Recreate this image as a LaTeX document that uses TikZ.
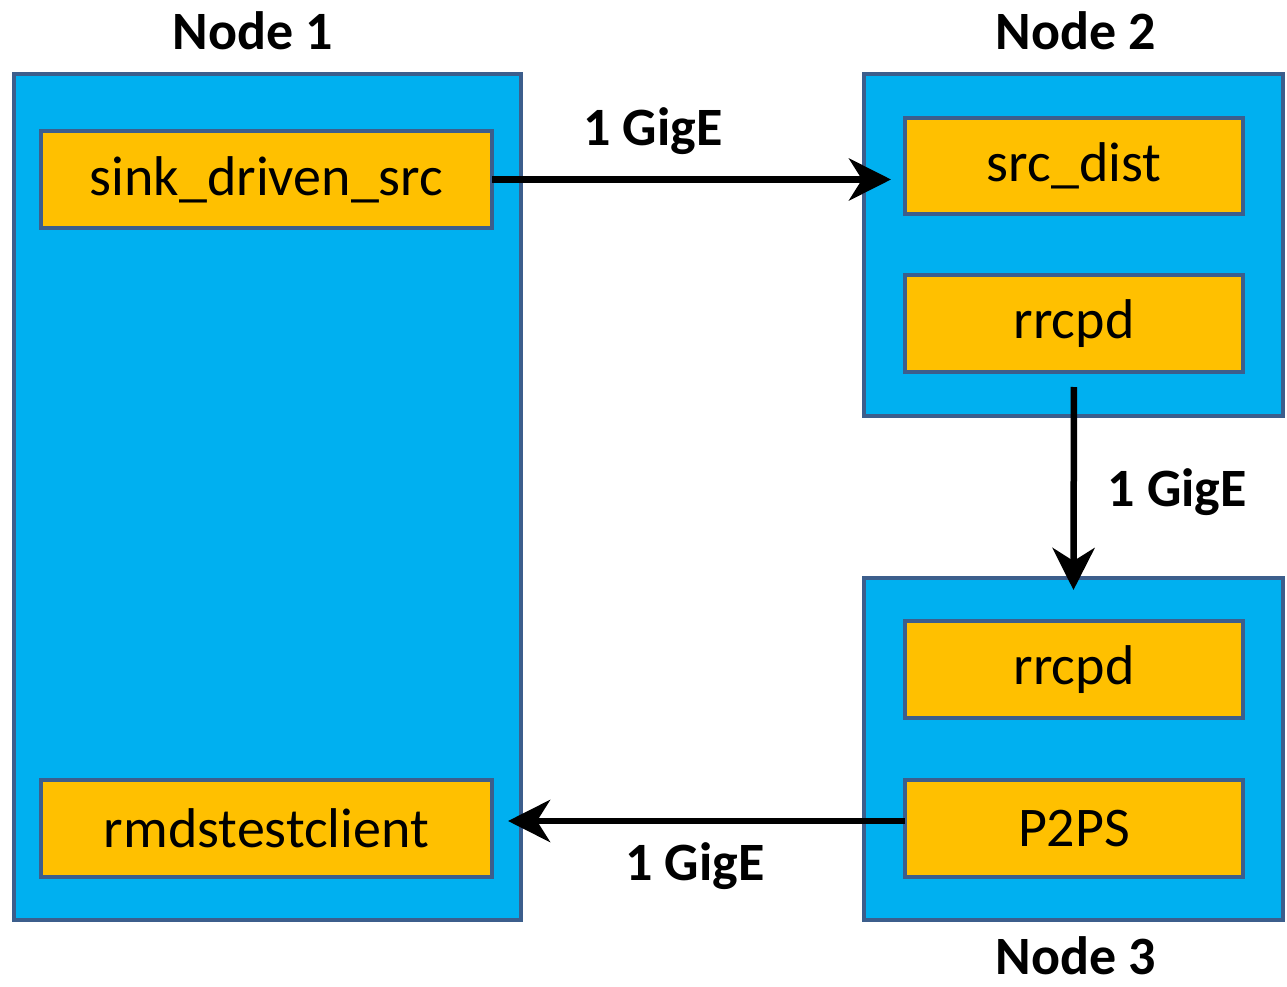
\documentclass[tikz,border=0pt]{standalone}
\usepackage{fontspec}
\setmainfont{Carlito}
\usetikzlibrary{arrows.meta}
\definecolor{nodeblue}{RGB}{0,176,240}
\definecolor{procorange}{RGB}{255,192,0}
\definecolor{edgeblue}{RGB}{60,94,140}
\tikzset{
  hostbox/.style={draw=edgeblue, fill=nodeblue, line width=4pt, rectangle, inner sep=0pt, outer sep=0pt},
  procbox/.style={draw=edgeblue, fill=procorange, line width=4pt, rectangle, inner sep=0pt, outer sep=0pt,
    font=\fontsize{56}{62}\selectfont, text=black},
  title/.style={font=\fontsize{54}{60}\selectfont\bfseries, inner sep=0pt},
  lbl/.style={font=\fontsize{54}{60}\selectfont\bfseries, inner sep=0pt},
  link/.style={line width=6.5pt, -{Stealth[length=42pt,width=42pt,inset=13pt]}},
}
\begin{document}
\begin{tikzpicture}[x=1pt,y=-1pt]
\useasboundingbox (0,0) rectangle (1287,987);
% host boxes
\node[hostbox, minimum width=507pt, minimum height=846pt] (n1) at (267.5,497) {};
\node[hostbox, minimum width=419pt, minimum height=342pt] (n2) at (1073.5,245) {};
\node[hostbox, minimum width=419pt, minimum height=342pt] (n3) at (1073.5,749) {};
% titles
\node[title] (t1) at (253,31) {Node 1};
\node[title] (t2) at (1076,31) {Node 2};
\node[title] (t3) at (1076,956) {Node 3};
% process boxes
\node[procbox, minimum width=451pt, minimum height=97pt] (sink) at (266.5,179.5) {sink\_driven\_src};
\node[procbox, minimum width=451pt, minimum height=97pt] (rmds) at (266.5,828.5) {rmdstestclient};
\node[procbox, minimum width=338pt, minimum height=96pt] (dist) at (1074,166) {src\_dist};
\node[procbox, minimum width=338pt, minimum height=97pt] (rrA) at (1074,323.5) {rrcpd};
\node[procbox, minimum width=338pt, minimum height=97pt] (rrB) at (1074,669.5) {rrcpd};
\node[procbox, minimum width=338pt, minimum height=97pt] (p2ps) at (1074,828.5) {P2PS};
% links
\draw[link, shorten >=14pt] (sink.east) -- (dist.west |- sink.east);
\draw[link, shorten <=15pt, shorten >=-12pt] (rrA.south) -- (n3.north);
\draw[link, shorten >=16pt] (p2ps.west |- 0,821) -- (rmds.east |- 0,821);
% link labels
\node[lbl] (l1) at (653,131) {1 GigE};
\node[lbl] (l2) at (1177,492) {1 GigE};
\node[lbl] (l3) at (695,866) {1 GigE};
\end{tikzpicture}
\end{document}
